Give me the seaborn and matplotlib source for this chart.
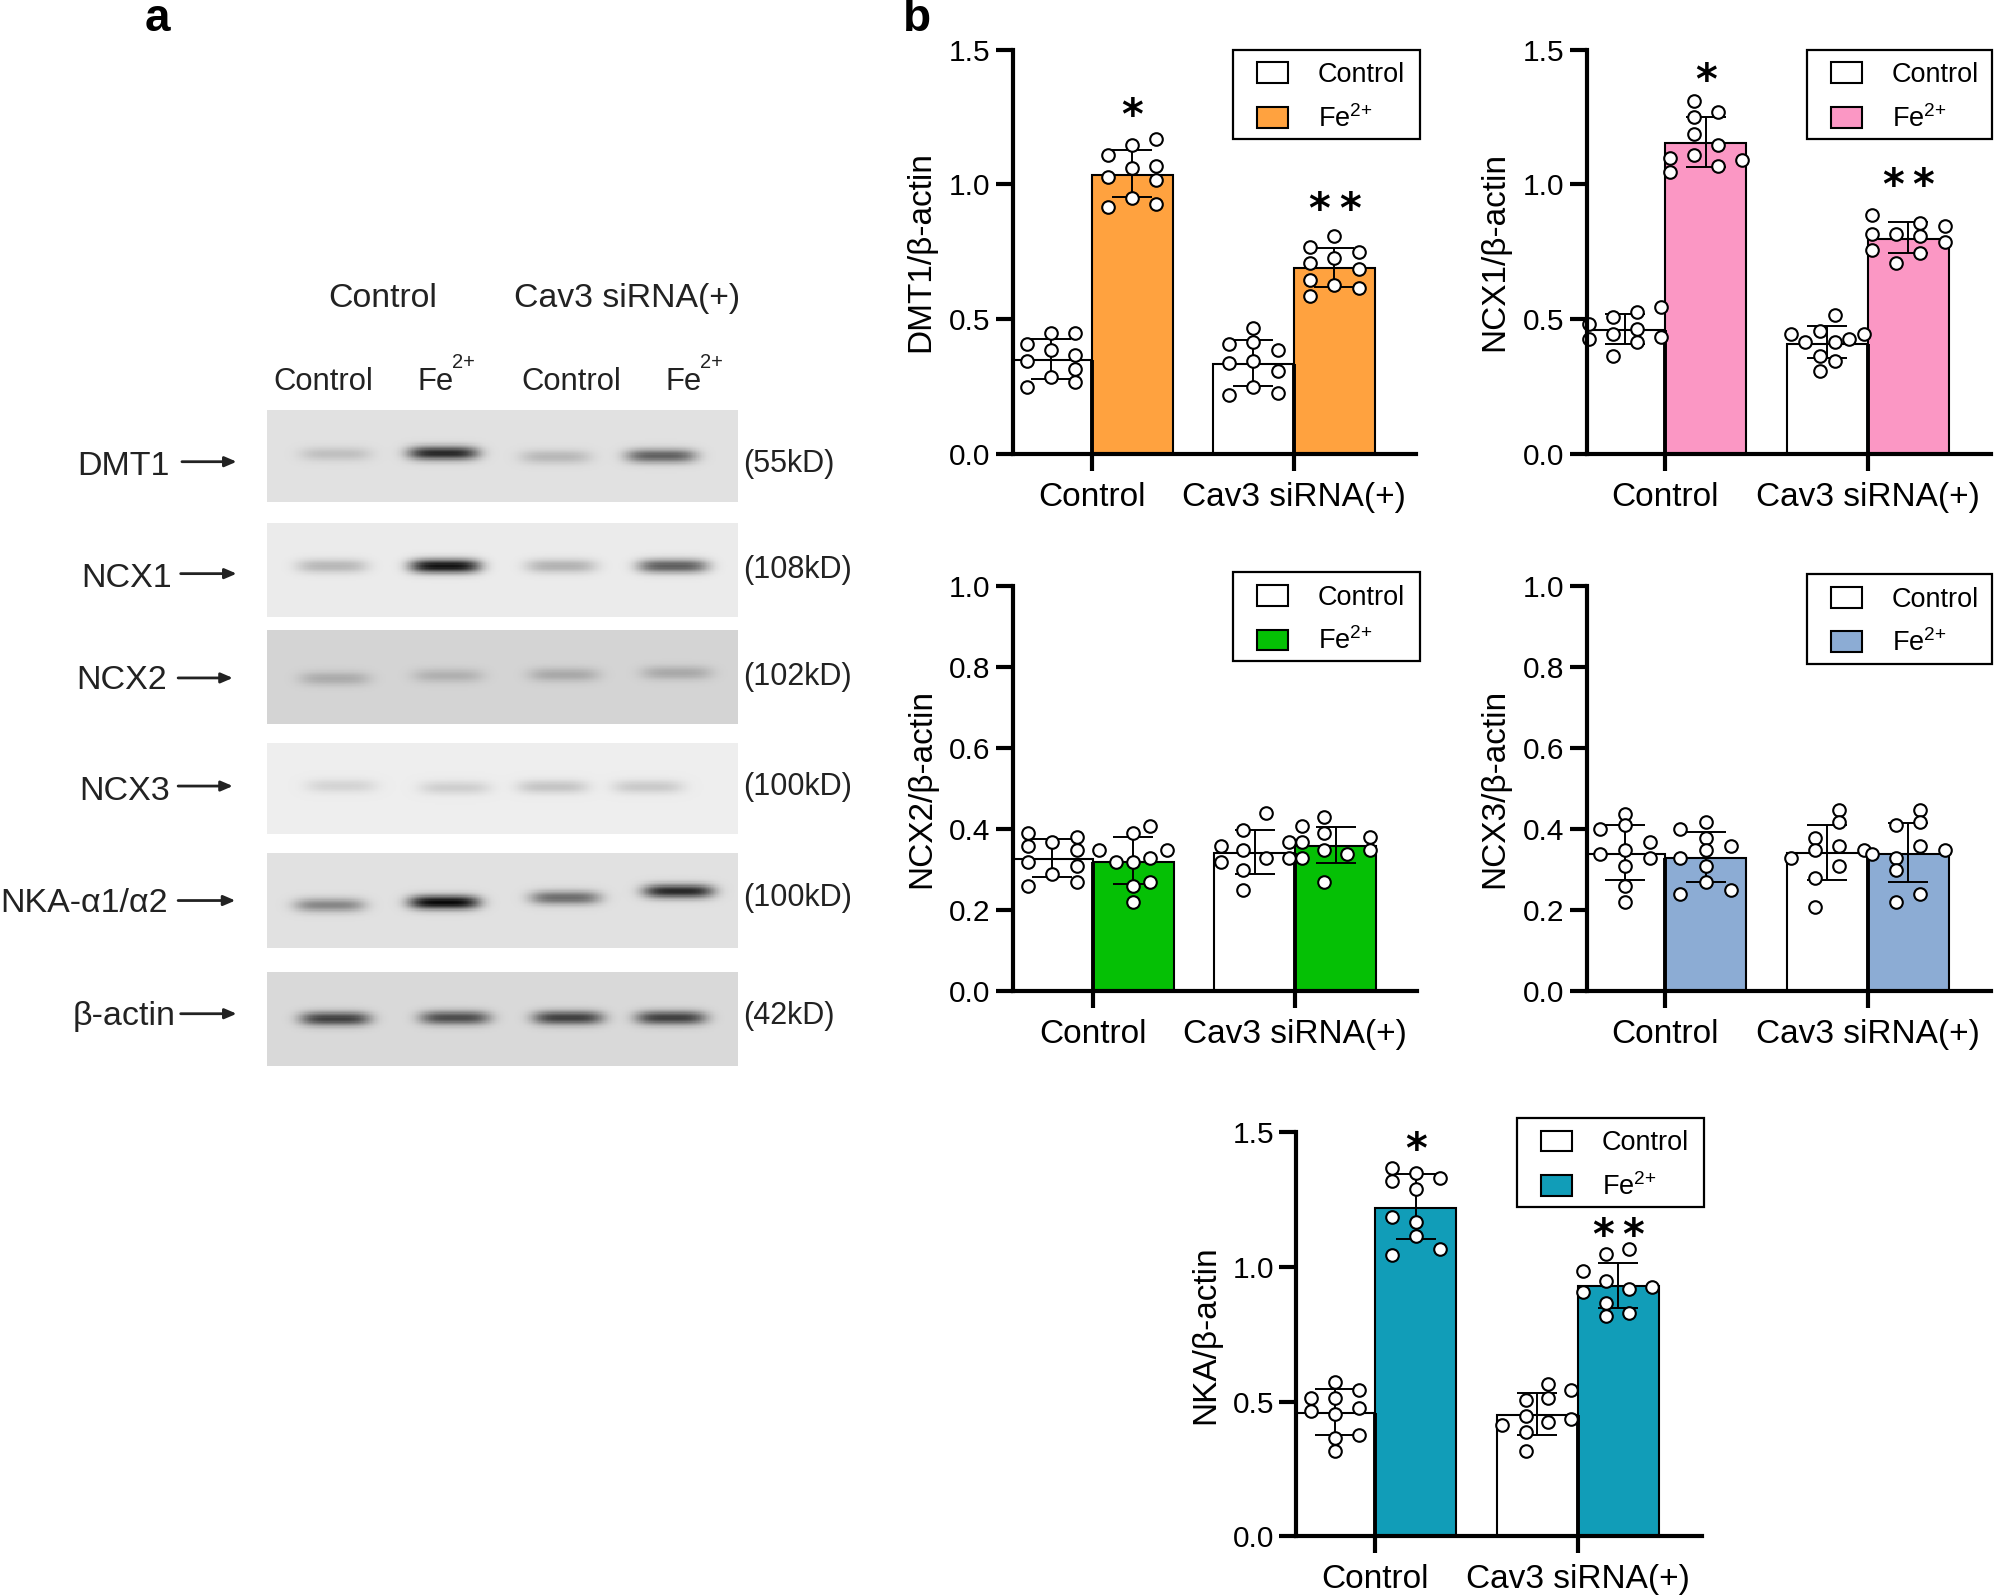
import numpy as np
import pandas as pd
import matplotlib
matplotlib.use('Agg')
import matplotlib.pyplot as plt
from matplotlib.patches import Rectangle
import seaborn as sns

sns.set_style('ticks')
plt.rcParams['font.family'] = ['Liberation Sans', 'DejaVu Sans']
plt.rcParams['mathtext.default'] = 'regular'
plt.rcParams['text.color'] = 'black'
plt.rcParams['axes.labelcolor'] = 'black'
plt.rcParams['xtick.labelcolor'] = 'black'
plt.rcParams['ytick.labelcolor'] = 'black'

groups = ['Control', 'Cav3 siRNA(+)']
treatments = ['Control', 'Fe$^{2{+}}$']

# bar order in every list: control/control, control/Fe, siRNA/control, siRNA/Fe
dmt1_means = [0.350, 1.036, 0.333, 0.690]
dmt1_low = [0.279, 0.953, 0.251, 0.619]
dmt1_high = [0.425, 1.128, 0.422, 0.764]
dmt1_points = [
    [.407, .347, .248, .448, .387, .287, .448, .367, .317, .267],
    [1.109, 1.029, .918, 1.148, 1.060, .948, 1.168, 1.069, 1.018, .928],
    [.407, .337, .218, .468, .417, .347, .248, .387, .307, .226],
    [.767, .708, .646, .586, .809, .727, .626, .748, .687, .616],
]
dmt1_cols = [
    [-1, -1, -1, 0, 0, 0, 1, 1, 1, 1],
    [-1, -1, -1, 0, 0, 0, 1, 1, 1, 1],
    [-1, -1, -1, 0, 0, 0, 0, 1, 1, 1],
    [-1, -1, -1, -1, 0, 0, 0, 1, 1, 1],
]
dmt1_stars = [1.25, 0.90]

ncx1_means = [0.460, 1.154, 0.410, 0.798]
ncx1_low = [0.407, 1.066, 0.355, 0.747]
ncx1_high = [0.518, 1.249, 0.475, 0.859]
ncx1_points = [
    [.484, .425, .507, .445, .365, .528, .465, .415, .546, .436],
    [1.098, 1.047, 1.308, 1.249, 1.187, 1.108, 1.269, 1.147, 1.068, 1.089],
    [.446, .417, .456, .365, .307, .516, .417, .347, .428, .446],
    [.888, .817, .757, .817, .708, .858, .807, .747, .847, .788],
]
ncx1_cols = [
    [-1.5, -1.5, -.5, -.5, -.5, .5, .5, .5, 1.5, 1.5],
    [-1.5, -1.5, -.5, -.5, -.5, -.5, .5, .5, .5, 1.5],
    [-1.5, -.9, -.3, -.3, -.3, .3, .3, .3, .9, 1.5],
    [-1.5, -1.5, -1.5, -.5, -.5, .5, .5, .5, 1.5, 1.5],
]
ncx1_stars = [1.38, 0.99]

ncx2_means = [0.326, 0.318, 0.342, 0.358]
ncx2_low = [0.282, 0.263, 0.290, 0.317]
ncx2_high = [0.376, 0.380, 0.397, 0.406]
ncx2_points = [
    [.389, .358, .318, .259, .368, .289, .380, .348, .309, .268],
    [.348, .318, .389, .318, .259, .219, .408, .329, .268, .348],
    [.358, .318, .398, .348, .299, .249, .439, .329, .368, .329],
    [.408, .368, .329, .429, .389, .348, .268, .338, .380, .348],
]
ncx2_cols = [
    [-1, -1, -1, -1, 0, 0, 1, 1, 1, 1],
    [-1.4, -.7, 0, 0, 0, 0, .7, .7, .7, 1.4],
    [-1.4, -1.4, -.47, -.47, -.47, -.47, .47, .47, 1.4, 1.4],
    [-1.4, -1.4, -1.4, -.47, -.47, -.47, -.47, .47, 1.4, 1.4],
]
ncx2_stars = [None, None]

ncx3_means = [0.339, 0.328, 0.341, 0.339]
ncx3_low = [0.275, 0.270, 0.275, 0.268]
ncx3_high = [0.410, 0.393, 0.411, 0.415]
ncx3_points = [
    [.399, .339, .438, .409, .348, .309, .258, .219, .367, .329],
    [.399, .329, .239, .418, .379, .348, .309, .268, .358, .249],
    [.329, .379, .348, .278, .208, .448, .418, .358, .309, .348],
    [.339, .409, .329, .298, .219, .448, .418, .358, .239, .348],
]
ncx3_cols = [
    [-1.05, -1.05, 0, 0, 0, 0, 0, 0, 1.05, 1.05],
    [-1.05, -1.05, -1.05, 0, 0, 0, 0, 0, 1.05, 1.05],
    [-1.5, -.5, -.5, -.5, -.5, .5, .5, .5, .5, 1.5],
    [-1.5, -.5, -.5, -.5, -.5, .5, .5, .5, .5, 1.5],
]
ncx3_stars = [None, None]

nka_means = [0.457, 1.219, 0.452, 0.928]
nka_low = [0.378, 1.103, 0.378, 0.847]
nka_high = [0.547, 1.345, 0.533, 1.014]
nka_points = [
    [.514, .465, .574, .514, .455, .366, .316, .545, .475, .376],
    [1.367, 1.318, 1.186, 1.045, 1.347, 1.288, 1.165, 1.116, 1.328, 1.066],
    [.415, .506, .446, .386, .316, .564, .514, .425, .545, .435],
    [.985, .906, 1.047, .946, .866, .816, 1.067, .916, .827, .926],
]
nka_cols = [
    [-1, -1, 0, 0, 0, 0, 0, 1, 1, 1],
    [-1, -1, -1, -1, 0, 0, 0, 0, 1, 1],
    [-1.44, -.48, -.48, -.48, -.48, .46, .46, .46, 1.41, 1.41],
    [-1.44, -1.44, -.48, -.48, -.48, -.48, .46, .46, .46, 1.41],
]
nka_stars = [1.43, 1.11]

# western blot strips
blot_names = ['DMT1', 'NCX1', 'NCX2', 'NCX3', 'NKA-\u03b11/\u03b12', '\u03b2-actin']
blot_kd = ['(55kD)', '(108kD)', '(102kD)', '(100kD)', '(100kD)', '(42kD)']
blot_bg = [0.88, 0.92, 0.83, 0.93, 0.88, 0.85]
band_x = [
    [.145, .374, .613, .838],
    [.137, .378, .625, .863],
    [.143, .384, .631, .871],
    [.157, .399, .607, .810],
    [.132, .376, .634, .875],
    [.144, .399, .640, .859],
]
band_y = [
    [.48, .47, .51, .50],
    [.46, .46, .46, .46],
    [.52, .49, .48, .46],
    [.47, .49, .48, .48],
    [.55, .52, .47, .40],
    [.50, .49, .49, .49],
]
band_depth = [
    [.13, .72, .16, .50],
    [.20, .85, .22, .55],
    [.16, .14, .17, .17],
    [.10, .12, .16, .14],
    [.35, .85, .45, .72],
    [.60, .55, .60, .60],
]

# layout, in the 1568x1254 frame of the reference
fig = plt.figure(figsize=(19.95, 15.95), dpi=100)
W, H = 1568, 1254


def add_ax(left, right, top, bottom):
    return fig.add_axes([left / W, 1 - bottom / H, (right - left) / W, (bottom - top) / H])


def bar_panel(box, ylim, yticks, ylabel, color, means, low, high, points, cols, stars, leg_box, label_x):
    left, right, top, bottom, tick0, tick1 = box
    ax = add_ax(left, right, top, bottom)
    df = pd.DataFrame({
        'group': [groups[0], groups[0], groups[1], groups[1]],
        'treat': [treatments[0], treatments[1], treatments[0], treatments[1]],
        'value': means,
    })
    sns.barplot(data=df, x='group', y='value', hue='treat', order=groups, hue_order=treatments,
                palette=['white', color], saturation=1, edgecolor='black', linewidth=1.5, errorbar=None,
                width=0.8, ax=ax, zorder=2)
    bars = sorted([b for c in ax.containers for b in c], key=lambda b: b.get_x())
    centers = [b.get_x() + b.get_width() / 2 for b in bars]

    ax.vlines([0, 1], 0, [min(means[:2]), min(means[2:])], color='black', lw=2.8, zorder=3)
    ax.errorbar(centers, means, yerr=[np.array(means) - np.array(low), np.array(high) - np.array(means)],
                fmt='none', ecolor='black', elinewidth=1.4, capsize=14.5, capthick=1.4, zorder=4)
    for cx, vals, col in zip(centers, points, cols):
        sns.scatterplot(x=cx + np.array(col) * 0.12, y=vals, s=82, color='white', edgecolor='black',
                        linewidth=1.5, ax=ax, zorder=5, clip_on=False, legend=False)

    if stars[0] is not None:
        ax.text(centers[1], stars[0], '*', ha='center', va='center', fontsize=30, fontweight='bold',
                family='DejaVu Sans', color='black')
        for dx in (-0.075, 0.075):
            ax.text(centers[3] + dx, stars[1], '*', ha='center', va='center', fontsize=30, fontweight='bold',
                    family='DejaVu Sans', color='black')

    ax.set_xlim((left - tick0) / (tick1 - tick0), (right - tick0) / (tick1 - tick0))
    ax.set_ylim(*ylim)
    ax.set_yticks(yticks)
    ax.set_yticklabels([f'{t:.1f}' for t in yticks])
    ax.set_xlabel('')
    ax.set_ylabel(ylabel, fontsize=24)
    ax.yaxis.set_label_coords((label_x + 13 - left) / (right - left), 0.5)
    ax.tick_params(axis='y', labelsize=21.5, length=12, width=3, pad=4, color='black')
    ax.tick_params(axis='x', labelsize=24, length=12, width=3, pad=8, color='black')
    sns.despine(ax=ax)
    for side in ('left', 'bottom'):
        ax.spines[side].set_linewidth(3)
        ax.spines[side].set_color('black')
        ax.spines[side].set_zorder(6)

    # legend box sits on the figure, the entries inside it
    lx0, ly0, lx1, ly1 = leg_box
    fig.add_artist(Rectangle((lx0 / W, 1 - ly1 / H), (lx1 - lx0) / W, (ly1 - ly0) / H,
                             transform=fig.transFigure, fill=False, edgecolor='black', lw=1.6))
    handles, labels = ax.get_legend_handles_labels()
    ax.legend(handles, labels, loc='center left', bbox_to_anchor=((lx0 + 19) / W, 1 - ((ly0 + ly1) / 2 + 2.5) / H),
              bbox_transform=fig.transFigure, frameon=False, fontsize=19.5, borderpad=0, borderaxespad=0,
              handlelength=1.15, handleheight=0.8, handletextpad=1.1, labelspacing=0.62,
              labelcolor='black')
    return ax


bar_panel((796, 1113, 39, 357, 858, 1017), (0, 1.5), [0, .5, 1, 1.5], 'DMT1/\u03b2-actin', '#FFA23F',
          dmt1_means, dmt1_low, dmt1_high, dmt1_points, dmt1_cols, dmt1_stars, (969, 39, 1116, 109), 723)
bar_panel((1247, 1565, 39, 357, 1309, 1468), (0, 1.5), [0, .5, 1, 1.5], 'NCX1/\u03b2-actin', '#FB97C4',
          ncx1_means, ncx1_low, ncx1_high, ncx1_points, ncx1_cols, ncx1_stars, (1420, 39, 1566, 109), 1174)
bar_panel((796, 1114, 461, 779, 859, 1018), (0, 1), [0, .2, .4, .6, .8, 1], 'NCX2/\u03b2-actin', '#05C005',
          ncx2_means, ncx2_low, ncx2_high, ncx2_points, ncx2_cols, ncx2_stars, (969, 450, 1116, 520), 724)
bar_panel((1247, 1565, 461, 779, 1309, 1468), (0, 1), [0, .2, .4, .6, .8, 1], 'NCX3/\u03b2-actin', '#8CACD4',
          ncx3_means, ncx3_low, ncx3_high, ncx3_points, ncx3_cols, ncx3_stars, (1420, 451, 1566, 522), 1174)
bar_panel((1019, 1338, 890, 1208, 1081, 1240), (0, 1.5), [0, .5, 1, 1.5], 'NKA/\u03b2-actin', '#119DB8',
          nka_means, nka_low, nka_high, nka_points, nka_cols, nka_stars, (1192, 879, 1339, 949), 947)

# blots
blot_tops = [322, 411, 495, 584, 671, 764]
blot_bottoms = [395, 485, 569, 656, 745, 838]
for i in range(6):
    ax = add_ax(210, 580, blot_tops[i], blot_bottoms[i])
    yy, xx = np.mgrid[0:1:74j, 0:1:370j]
    img = np.full(xx.shape, blot_bg[i])
    for cx, cy, d in zip(band_x[i], band_y[i], band_depth[i]):
        img -= d * np.exp(-((xx - cx) / 0.075) ** 4) * np.exp(-((yy - cy) / 0.075) ** 2)
    sns.heatmap(np.clip(img, 0, 1), cmap='gray', vmin=0, vmax=1, cbar=False,
                xticklabels=False, yticklabels=False, ax=ax, rasterized=True)

# text and arrows around the blots
over = fig.add_axes([0, 0, 1, 1], facecolor='none')
over.set_xlim(0, W)
over.set_ylim(H, 0)
over.axis('off')
ink = '#222222'

over.text(124, 15, 'a', fontsize=33, fontweight='bold', ha='center', va='center', color='black')
over.text(721, 15, 'b', fontsize=33, fontweight='bold', ha='center', va='center', color='black')

over.text(301, 235, 'Control', fontsize=24.3, ha='center', va='center', color=ink)
over.text(493, 235, 'Cav3 siRNA(+)', fontsize=24.3, ha='center', va='center', color=ink)
for x in (254, 449):
    over.text(x, 300, 'Control', fontsize=22.3, ha='center', va='center', color=ink)
for x in (342, 537):
    over.text(x, 300, 'Fe', fontsize=22.3, ha='center', va='center', color=ink)
    over.text(x + 13, 285, '2+', fontsize=14.5, ha='left', va='center', color=ink)

name_right = [133, 135, 131, 134, 132, 138]
name_y = [367, 455, 535, 622, 710, 799]
arrow_x = [(143, 186), (142, 186), (140, 183), (140, 183), (140, 185), (142, 186)]
arrow_y = [363, 451, 533, 618, 708, 797]
kd_y = [365, 448, 532, 619, 706, 799]
for i in range(6):
    over.text(name_right[i], name_y[i], blot_names[i], fontsize=24.5, ha='right', va='center', color=ink)
    over.annotate('', xy=(arrow_x[i][1], arrow_y[i]), xytext=(arrow_x[i][0], arrow_y[i]),
                  arrowprops=dict(arrowstyle='-|>,head_length=0.7,head_width=0.3', color=ink, lw=2,
                                  shrinkA=0, shrinkB=0))
    over.text(584, kd_y[i], blot_kd[i], fontsize=22, ha='left', va='center', color=ink)

fig.savefig('out.png', dpi=100)
